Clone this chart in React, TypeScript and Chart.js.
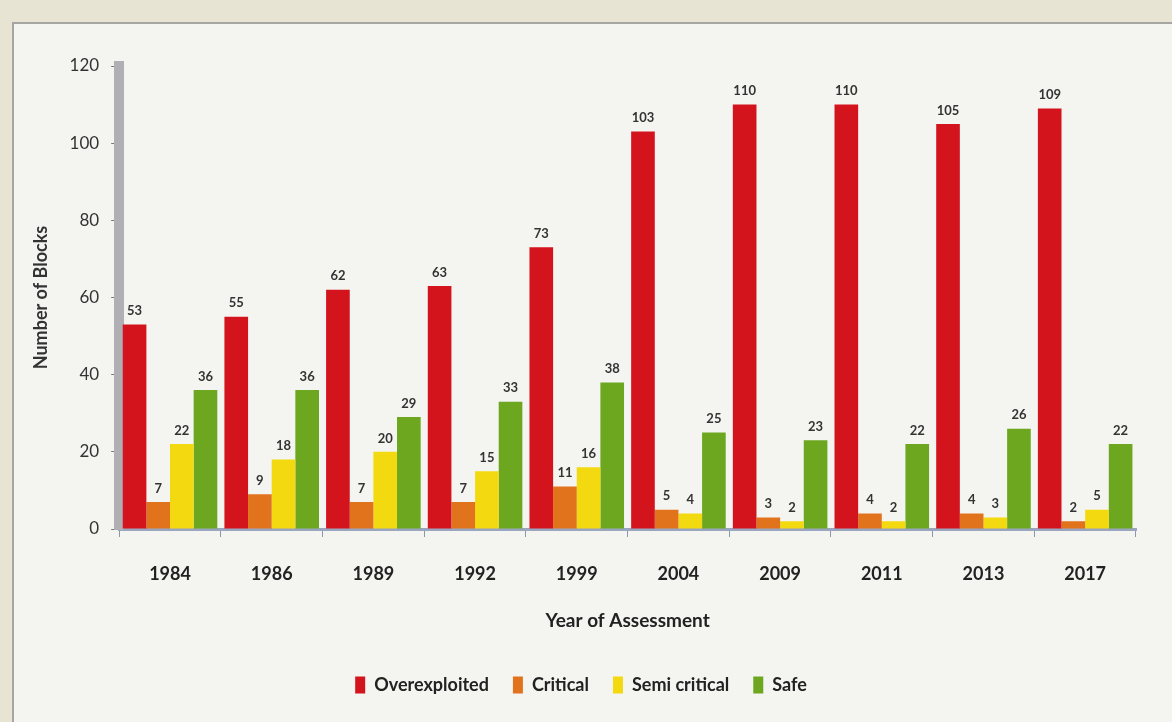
import React, { useEffect, useRef } from "react";
import { Chart, registerables } from "chart.js";

Chart.register(...registerables);

const years = ["1984", "1986", "1989", "1992", "1999", "2004", "2009", "2011", "2013", "2017"];
const overexploited = [53, 55, 62, 63, 73, 103, 110, 110, 105, 109];
const critical = [7, 9, 7, 7, 11, 5, 3, 4, 4, 2];
const semiCritical = [22, 18, 20, 15, 16, 4, 2, 2, 3, 5];
const safe = [36, 36, 29, 33, 38, 25, 23, 22, 26, 22];
const yTicks = [0, 20, 40, 60, 80, 100, 120];

const FONT = "Lato, 'Open Sans', sans-serif";

const valueLabels = {
  id: "valueLabels",
  afterDatasetsDraw(chart: any) {
    const ctx = chart.ctx;
    ctx.save();
    ctx.font = `bold 13px ${FONT}`;
    ctx.fillStyle = "#333";
    ctx.textAlign = "center";
    ctx.textBaseline = "bottom";
    chart.data.datasets.forEach((ds: any, i: number) => {
      const meta = chart.getDatasetMeta(i);
      meta.data.forEach((bar: any, j: number) => {
        ctx.fillText(String(ds.data[j]), bar.x, bar.y - 7);
      });
    });
    ctx.restore();
  },
};

export default function App() {
  const ref = useRef<HTMLCanvasElement>(null);
  useEffect(() => {
    if (!ref.current) return;
    const chart = new Chart(ref.current, {
      type: "bar",
      data: {
        labels: years,
        datasets: [
          { label: "Overexploited", data: overexploited, backgroundColor: "#d3141d" },
          { label: "Critical", data: critical, backgroundColor: "#e2731d" },
          { label: "Semi critical", data: semiCritical, backgroundColor: "#f3d90f" },
          { label: "Safe", data: safe, backgroundColor: "#6ca71f" },
        ],
      },
      options: {
        animation: false,
        responsive: false,
        layout: { padding: { left: 12, right: 36, top: 42, bottom: 18 } },
        datasets: { bar: { categoryPercentage: 0.93, barPercentage: 1.0 } },
        scales: {
          x: {
            grid: { display: true, drawOnChartArea: false, drawTicks: true, tickLength: 8, color: "#8a97b0", offset: true },
            border: { display: true, color: "#9aa6c0", width: 3 },
            ticks: { color: "#222", font: { family: FONT, size: 18, weight: "bold", lineHeight: 1 }, padding: 28 },
            title: { display: true, text: "Year of Assessment", color: "#222", font: { family: FONT, size: 19, weight: "bold", lineHeight: 1 }, padding: { top: 0, bottom: 22 } },
          },
          y: {
            min: 0,
            max: 120,
            afterBuildTicks: (axis: any) => {
              axis.ticks = yTicks.map((v) => ({ value: v }));
            },
            grid: { display: true, drawOnChartArea: false, drawTicks: true, tickLength: 8, color: "#777" },
            border: { display: true, color: "#b0b0b4", width: 10 },
            ticks: { color: "#333", font: { family: FONT, size: 17 }, padding: 12 },
            title: { display: true, text: "Number of Blocks", color: "#333", font: { family: FONT, size: 18, weight: "bold" }, padding: { bottom: 6 } },
          },
        },
        plugins: {
          legend: {
            position: "bottom",
            labels: {
              color: "#222",
              font: { family: FONT, size: 18, weight: "bold" },
              boxWidth: 10,
              boxHeight: 17,
              padding: 24,
            },
          },
          tooltip: { enabled: false },
        },
      } as any,
      plugins: [valueLabels],
    });
    return () => chart.destroy();
  }, []);
  return (
    <div style={{ position: "absolute", left: 0, top: 0, width: 1172, height: 722, background: "#e8e4d4" }}>
      <div
        style={{
          position: "absolute",
          left: 12,
          top: 22,
          width: 1160,
          height: 700,
          background: "#f4f4f1",
          borderLeft: "2px solid #a6a6a2",
          borderTop: "2px solid #a6a6a2",
        }}
      >
        <canvas ref={ref} width={1158} height={698} style={{ display: "block" }} />
      </div>
    </div>
  );
}
